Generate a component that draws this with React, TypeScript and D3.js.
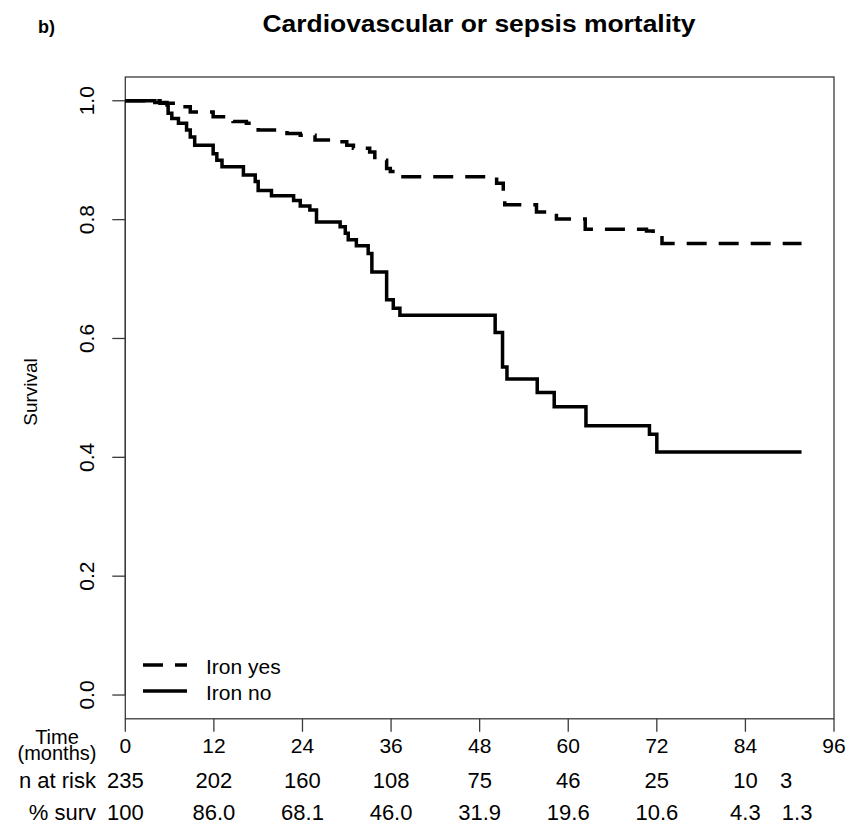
import React from "react";
import * as d3 from "d3";

// Kaplan-Meier step points (months, survival)
const ironYesTime = [0, 4.7, 7.4, 8.8, 11.9, 14.6, 16.4, 18.0, 21.9, 23.7, 25.7, 29.1, 30.0, 30.9, 33.1, 33.8, 35.4, 35.9, 37.2, 50.3, 51.2, 51.4, 55.7, 58.4, 62.3, 70.6, 71.5, 72.7, 91.6];
const ironYesSurv = [1.0, 0.996, 0.99, 0.981, 0.973, 0.965, 0.962, 0.951, 0.945, 0.942, 0.934, 0.931, 0.925, 0.92, 0.914, 0.9, 0.886, 0.881, 0.872, 0.861, 0.844, 0.825, 0.813, 0.801, 0.784, 0.781, 0.776, 0.76, 0.76];

const ironNoTime = [0, 4.0, 5.65, 5.8, 6.3, 7.2, 8.3, 8.8, 9.4, 11.9, 12.4, 13.1, 16.0, 17.6, 18.0, 19.8, 22.8, 23.7, 25.0, 25.9, 29.1, 29.8, 30.2, 31.3, 32.9, 33.4, 35.4, 36.3, 37.2, 50.1, 51.1, 51.7, 55.8, 58.1, 62.4, 71.0, 72.0, 91.6];
const ironNoSurv = [1.0, 0.997, 0.993, 0.979, 0.97, 0.962, 0.951, 0.939, 0.925, 0.911, 0.9, 0.889, 0.875, 0.864, 0.849, 0.84, 0.832, 0.823, 0.816, 0.796, 0.788, 0.777, 0.766, 0.756, 0.743, 0.712, 0.665, 0.651, 0.639, 0.61, 0.552, 0.532, 0.509, 0.485, 0.453, 0.439, 0.409, 0.409];

const xTicks = [0, 12, 24, 36, 48, 60, 72, 84, 96];
const yTicks = [0, 0.2, 0.4, 0.6, 0.8, 1.0];

const riskTimes = [0, 12, 24, 36, 48, 60, 72, 84, 89.5];
const nAtRisk = ["235", "202", "160", "108", "75", "46", "25", "10", "3"];
const survTimes = [0, 12, 24, 36, 48, 60, 72, 84, 91];
const pctSurv = ["100", "86.0", "68.1", "46.0", "31.9", "19.6", "10.6", "4.3", "1.3"];

const FONT = "'Liberation Sans', Arial, Helvetica, sans-serif";

export default function App() {
  const x = d3.scaleLinear().domain([0, 96]).range([125.3, 834]);
  const y = d3.scaleLinear().domain([-0.04, 1.04]).range([718.8, 77]);

  const line = d3
    .line<[number, number]>()
    .x(d => x(d[0]))
    .y(d => y(d[1]))
    .curve(d3.curveStepAfter);

  const yesPts = ironYesTime.map((t, i) => [t, ironYesSurv[i]] as [number, number]);
  const noPts = ironNoTime.map((t, i) => [t, ironNoSurv[i]] as [number, number]);

  const x0 = x(0), x1 = x(96), yTop = y(1.04), yBot = y(-0.04);
  const axisCol = "#3a3a3a";

  return (
    <svg width={850} height={827} style={{ position: "absolute", left: 0, top: 0, background: "#fff" }} fontFamily={FONT}>
      <rect width={850} height={827} fill="#fff" />
      {/* titles */}
      <text x={38} y={33} fontSize={18} fontWeight="bold">b)</text>
      <text x={479} y={32} fontSize={23} fontWeight="bold" textAnchor="middle" textLength={433} lengthAdjust="spacingAndGlyphs">
        Cardiovascular or sepsis mortality
      </text>

      {/* plot box */}
      <rect x={x0} y={yTop} width={x1 - x0} height={yBot - yTop} fill="none" stroke={axisCol} strokeWidth={1.3} />

      {/* y axis */}
      <line x1={x0} x2={x0} y1={y(0)} y2={y(1)} stroke={axisCol} strokeWidth={1.3} />
      {yTicks.map(t => (
        <g key={t}>
          <line x1={x0 - 13} x2={x0} y1={y(t)} y2={y(t)} stroke={axisCol} strokeWidth={1.3} />
          <text transform={`translate(94, ${y(t)}) rotate(-90)`} fontSize={21} textAnchor="middle">
            {t.toFixed(1)}
          </text>
        </g>
      ))}
      <text transform={`translate(37, 392) rotate(-90)`} fontSize={19} textAnchor="middle">Survival</text>

      {/* x axis */}
      {xTicks.map(t => (
        <g key={t}>
          <line x1={x(t)} x2={x(t)} y1={yBot} y2={yBot + 13} stroke={axisCol} strokeWidth={1.3} />
          <text x={x(t)} y={753} fontSize={21} textAnchor="middle">{t}</text>
        </g>
      ))}

      {/* risk table */}
      <text x={57} y={744} fontSize={20} textAnchor="middle">
        <tspan x={57}>Time</tspan>
        <tspan x={57} dy={16}>(months)</tspan>
      </text>
      <text x={96} y={788} fontSize={22} textAnchor="end">n at risk</text>
      {nAtRisk.map((v, i) => (
        <text key={"n" + i} x={x(riskTimes[i])} y={788} fontSize={22} textAnchor="middle">{v}</text>
      ))}
      <text x={96} y={820} fontSize={22} textAnchor="end">% surv</text>
      {pctSurv.map((v, i) => (
        <text key={"p" + i} x={x(survTimes[i])} y={820} fontSize={22} textAnchor="middle">{v}</text>
      ))}

      {/* curves */}
      <path d={line(noPts) || ""} fill="none" stroke="#000" strokeWidth={3.5} />
      <path d={line(yesPts) || ""} fill="none" stroke="#000" strokeWidth={3.5} strokeDasharray="20 12" />

      {/* legend */}
      <line x1={143} x2={187} y1={665} y2={665} stroke="#000" strokeWidth={3.5} strokeDasharray="20 12" />
      <line x1={143} x2={187} y1={691} y2={691} stroke="#000" strokeWidth={3.5} />
      <text x={206} y={674} fontSize={21}>Iron yes</text>
      <text x={206} y={700} fontSize={21}>Iron no</text>
    </svg>
  );
}
